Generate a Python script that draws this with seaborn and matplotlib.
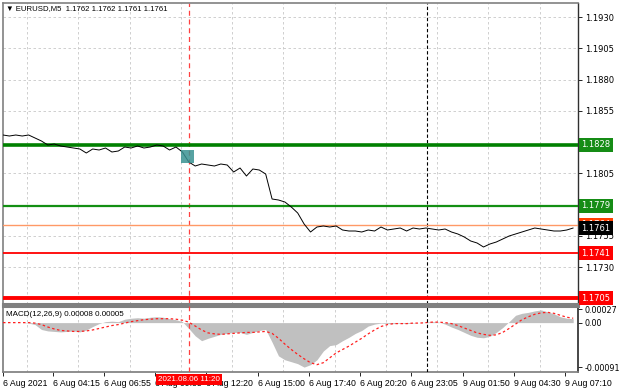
import numpy as np
import pandas as pd
import matplotlib
matplotlib.use('Agg')
import matplotlib.pyplot as plt
import matplotlib.transforms as mtransforms
from matplotlib.patches import Rectangle
import seaborn as sns

sns.set_theme(style='white')
plt.rcParams['font.family'] = ['DejaVu Sans']

# --- data (5-minute bars, index = bar number) ---
price_bars = list(range(0, 360, 4))
price_close = [
    1.18356, 1.18348, 1.18356, 1.18348, 1.18356, 1.18332, 1.18308, 1.18276, 1.18284, 1.18268,
    1.18260, 1.18252, 1.18244, 1.18212, 1.18244, 1.18236, 1.18252, 1.18220, 1.18228, 1.18260,
    1.18252, 1.18268, 1.18252, 1.18260, 1.18276, 1.18268, 1.18236, 1.18260, 1.18220, 1.18140,
    1.18108, 1.18124, 1.18116, 1.18108, 1.18124, 1.18116, 1.18060, 1.18092, 1.18028, 1.18084,
    1.18076, 1.18044, 1.17844, 1.17836, 1.17820, 1.17780, 1.17732, 1.17644, 1.17580, 1.17620,
    1.17628, 1.17620, 1.17628, 1.17596, 1.17588, 1.17588, 1.17580, 1.17596, 1.17588, 1.17620,
    1.17596, 1.17604, 1.17612, 1.17588, 1.17612, 1.17604, 1.17612, 1.17604, 1.17596, 1.17604,
    1.17580, 1.17564, 1.17540, 1.17508, 1.17492, 1.17460, 1.17484, 1.17500, 1.17524, 1.17548,
    1.17564, 1.17580, 1.17596, 1.17612, 1.17604, 1.17596, 1.17588, 1.17588, 1.17596, 1.17612,
]
macd_hist = [
    0.0, 0.0, 0.0, 0.0, -0.00001, -0.00004, -0.00014, -0.00017, -0.00018, -0.00019,
    -0.00018, -0.00017, -0.00019, -0.00015, -0.00008, -0.00002, 0.00002, 0.00003, 0.00002, 0.00007,
    0.00009, 0.00010, 0.00009, 0.00011, 0.00012, 0.00011, 0.00008, 0.00006, 0.00002, -0.00012,
    -0.00027, -0.00037, -0.00032, -0.00028, -0.00024, -0.00022, -0.00020, -0.00020, -0.00024, -0.00020,
    -0.00016, -0.00014, -0.00040, -0.00068, -0.00076, -0.00080, -0.00084, -0.00091, -0.00086, -0.00076,
    -0.00058, -0.00047, -0.00045, -0.00037, -0.00030, -0.00022, -0.00016, -0.00007, -0.00003, -0.00001,
    -0.00002, -0.00002, -0.00001, -0.00002, -0.00001, 0.0, 0.00001, 0.00002, 0.00001, -0.00003,
    -0.00009, -0.00014, -0.00020, -0.00026, -0.00030, -0.00031, -0.00028, -0.00020, -0.00010, 0.00002,
    0.00015, 0.00019, 0.00021, 0.00024, 0.00026, 0.00022, 0.00018, 0.00012, 0.00009, 0.00008,
]
macd_signal = [
    0.0, 0.0, 0.0, 0.0, 0.0, -0.00001, -0.00004, -0.00009, -0.00013, -0.00016,
    -0.00017, -0.00018, -0.00018, -0.00017, -0.00015, -0.00012, -0.00009, -0.00006, -0.00004, -0.00001,
    0.00002, 0.00004, 0.00006, 0.00007, 0.00008, 0.00008, 0.00008, 0.00007, 0.00005, 0.00001,
    -0.00007, -0.00015, -0.00021, -0.00023, -0.00024, -0.00023, -0.00022, -0.00021, -0.00020, -0.00020,
    -0.00019, -0.00018, -0.00022, -0.00032, -0.00044, -0.00055, -0.00065, -0.00074, -0.00082, -0.00086,
    -0.00082, -0.00072, -0.00062, -0.00055, -0.00048, -0.00040, -0.00032, -0.00023, -0.00015, -0.00008,
    -0.00004, -0.00002, -0.00002, -0.00002, -0.00001, -0.00001, 0.0, 0.00001, 0.00001, 0.0,
    -0.00002, -0.00006, -0.00011, -0.00016, -0.00021, -0.00024, -0.00026, -0.00025, -0.00020, -0.00012,
    -0.00003, 0.00006, 0.00012, 0.00017, 0.00020, 0.00021, 0.00019, 0.00015, 0.00011, 0.00009,
]

tick_bars = [0, 31, 63, 95, 127, 159, 191, 223, 255, 287, 319, 351]
tick_labels = ['6 Aug 2021', '6 Aug 04:15', '6 Aug 06:55', '6 Aug 09:35', '6 Aug 12:20',
               '6 Aug 15:00', '6 Aug 17:40', '6 Aug 20:20', '6 Aug 23:05', '9 Aug 01:50',
               '9 Aug 04:30', '9 Aug 07:10']
price_ticks = [1.1730, 1.1755, 1.1805, 1.1855, 1.1880, 1.1905, 1.1930]

levels = [1.1828, 1.1779, 1.1764, 1.1741, 1.1705]
level_colors = ['#008000', '#138f13', '#ff9966', '#ff0000', '#ff0000']
level_box = ['#158c15', '#158c15', '#ff4000', '#ff0000', '#ff0000']
level_widths = [2.6, 1.6, 1.0, 1.3, 2.8]
bid = 1.1761

entry_bar = 116
entry_label = '2021.08.06 11:20'
separator_bar = 265

price = pd.DataFrame({'bar': price_bars, 'close': price_close})
macd = pd.DataFrame({'bar': price_bars, 'hist': macd_hist, 'signal': macd_signal})

fig = plt.figure(figsize=(6.2, 3.88), dpi=100)
ax = fig.add_axes([0.00484, 0.21649, 0.92742, 0.77577])
ax2 = fig.add_axes([0.00484, 0.04124, 0.92742, 0.17010], sharex=ax)

grid_kw = dict(color='#c8c8c8', linestyle=(0, (3, 3)), linewidth=0.6)
narrow = 'Liberation Sans'

# price panel
sns.lineplot(data=price, x='bar', y='close', ax=ax, color='black', linewidth=0.7, zorder=4)
for lv, c, w in zip(levels, level_colors, level_widths):
    ax.axhline(lv, color=c, linewidth=w, zorder=3)
ax.add_patch(Rectangle((111, 1.18132), 8, 0.00104, facecolor='#3a9292', alpha=0.85,
                       edgecolor='none', zorder=5))
ax.axvline(entry_bar, color='#ff4040', linestyle=(0, (4, 3)), linewidth=0.9, zorder=2)
ax.axvline(separator_bar, color='black', linestyle=(0, (3, 2)), linewidth=0.8, zorder=2)

ax.set_xlim(0, 359)
ax.set_ylim(1.17004, 1.19412)
ax.set_yticks(price_ticks)
ax.set_yticklabels([f'{v:.4f}' for v in price_ticks])
ax.yaxis.tick_right()
ax.tick_params(axis='y', right=True, length=3, width=0.6, labelsize=6, pad=2, colors='black')
ax.tick_params(axis='x', bottom=False, labelbottom=False)
ax.set_xticks(list(range(15, 360, 16)), minor=True)
ax.grid(True, axis='y', which='major', **grid_kw)
ax.grid(True, axis='x', which='minor', **grid_kw)
ax.set_xlabel('')
ax.set_ylabel('')
for s in ['left', 'top']:
    ax.spines[s].set_color('#808080')
    ax.spines[s].set_linewidth(1.2)
ax.spines['bottom'].set_color('#808080')
ax.spines['bottom'].set_linewidth(2.2)
ax.spines['right'].set_color('#303030')
ax.spines['right'].set_linewidth(1.0)

trans = mtransforms.blended_transform_factory(ax.transAxes, ax.transData)
for lv, bc in zip(levels, level_box):
    ax.text(1.006, lv, f'{lv:.4f}', transform=trans, va='center', ha='left', fontsize=6,
            color='white', zorder=6, clip_on=False,
            bbox=dict(boxstyle='square,pad=0.3', fc=bc, ec='none'))
ax.text(1.006, bid, f'{bid:.4f}', transform=trans, va='center', ha='left', fontsize=6,
        color='white', zorder=7, clip_on=False,
        bbox=dict(boxstyle='square,pad=0.3', fc='black', ec='none'))

ax.text(0.006, 0.992, '\u25bc EURUSD,M5  1.1762 1.1762 1.1761 1.1761', transform=ax.transAxes,
        va='top', ha='left', fontsize=5.6, color='black', zorder=8,
        family=[narrow, 'DejaVu Sans'])

# MACD panel
ax2.fill_between(macd['bar'], 0, macd['hist'], color='#c0c0c0', linewidth=0, zorder=2)
sns.lineplot(data=macd, x='bar', y='signal', ax=ax2, color='#ff2020', linewidth=0.9,
             linestyle=(0, (2, 2)), zorder=3)
ax2.axvline(entry_bar, color='#ff4040', linestyle=(0, (4, 3)), linewidth=0.9, zorder=4)
ax2.axvline(separator_bar, color='black', linestyle=(0, (3, 2)), linewidth=0.8, zorder=4)
ax2.set_ylim(-0.00101, 0.00034)
ax2.set_yticks([-0.00091, 0.0, 0.00027])
ax2.set_yticklabels(['-0.00091', '0.00', '0.00027'])
ax2.yaxis.tick_right()
ax2.tick_params(axis='y', right=True, length=3, width=0.6, labelsize=5.8, pad=1.5, colors='black')
ax2.set_xticks(tick_bars)
ax2.set_xticklabels(tick_labels)
ax2.set_xticks(list(range(15, 360, 16)), minor=True)
ax2.tick_params(axis='x', which='major', bottom=True, length=3, width=0.6, labelsize=6.3, pad=2,
                colors='black')
ax2.tick_params(axis='x', which='minor', bottom=False)
for lbl in ax2.get_xticklabels():
    lbl.set_ha('left')
    lbl.set_fontfamily(narrow)
ax2.grid(True, axis='x', which='minor', **grid_kw)
ax2.set_xlim(0, 359)
ax2.set_xlabel('')
ax2.set_ylabel('')
ax2.spines['top'].set_color('#808080')
ax2.spines['top'].set_linewidth(2.2)
ax2.spines['left'].set_color('#808080')
ax2.spines['bottom'].set_color('#808080')
ax2.spines['right'].set_color('#303030')
ax2.text(0.006, 0.93, 'MACD(12,26,9) 0.00008 0.00005', transform=ax2.transAxes,
         va='top', ha='left', fontsize=5.8, color='black', zorder=8, family=narrow)

xtrans = mtransforms.blended_transform_factory(ax2.transData, ax2.transAxes)
ax2.text(entry_bar, -0.06, entry_label, transform=xtrans, va='top', ha='center', fontsize=5.8,
         color='white', zorder=10, clip_on=False, family=narrow,
         bbox=dict(boxstyle='square,pad=0.25', fc='#ff0000', ec='none'))

fig.savefig('out.png', dpi=100)
